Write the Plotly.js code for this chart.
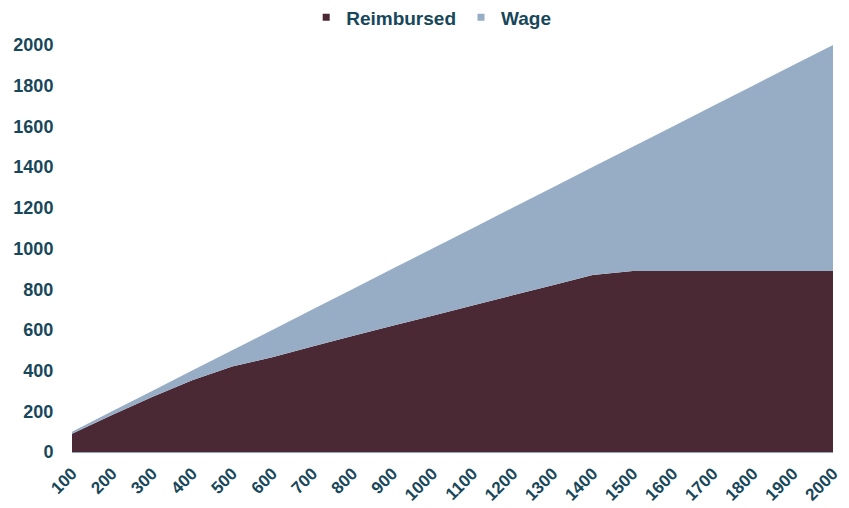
<!DOCTYPE html>
<html>
<head>
<meta charset="utf-8">
<script src="https://cdn.plot.ly/plotly-3.0.1.min.js"></script>
<style>html,body{margin:0;padding:0;background:#fff;}#chart{width:849px;height:508px;}</style>
</head>
<body>
<div id="chart"></div>
<script>
const categories = [100,200,300,400,500,600,700,800,900,1000,1100,1200,1300,1400,1500,1600,1700,1800,1900,2000];
const reimbursed = [90,182,270,352,420,465,518,570,620,670,720,770,820,870,890,890,890,890,890,890];
const wage = [10,18,30,48,80,135,182,230,280,330,380,430,480,530,610,710,810,910,1010,1110];
const yTicks = [0,200,400,600,800,1000,1200,1400,1600,1800,2000];

const textColor = '#17475a';
const fontFam = '"Liberation Sans", Arial, sans-serif';
const cRe = '#4a2834';
const cWa = '#97adc6';

const data = [
  {x: categories, y: reimbursed, name: 'Reimbursed', type: 'scatter', mode: 'none',
   stackgroup: 'one', fillcolor: cRe, showlegend: false, hoverinfo: 'x+y+name'},
  {x: categories, y: wage, name: 'Wage', type: 'scatter', mode: 'none',
   stackgroup: 'one', fillcolor: cWa, showlegend: false, hoverinfo: 'x+y+name'},
  {x: [null], y: [null], name: 'Reimbursed', type: 'scatter', mode: 'markers',
   marker: {symbol: 'square', size: 7, color: cRe}},
  {x: [null], y: [null], name: 'Wage', type: 'scatter', mode: 'markers',
   marker: {symbol: 'square', size: 7, color: cWa}}
];

const layout = {
  width: 849, height: 508,
  margin: {l: 72, r: 16, t: 45, b: 56, autoexpand: false},
  paper_bgcolor: '#ffffff', plot_bgcolor: '#ffffff',
  font: {family: fontFam, color: textColor, size: 18},
  showlegend: true,
  legend: {orientation: 'h', x: 0.472, xanchor: 'center', y: 1.068, yanchor: 'middle',
           traceorder: 'normal',
           font: {family: fontFam, size: 19, color: textColor, weight: 'bold'},
           itemwidth: 30, tracegroupgap: 0, bgcolor: 'rgba(0,0,0,0)'},
  xaxis: {
    type: 'linear', range: [100, 2000], tickmode: 'array', tickvals: categories,
    ticktext: categories.map(String), tickangle: -45,
    showgrid: false, zeroline: false, showline: true, linecolor: '#8fa3b8', linewidth: 1,
    ticks: 'outside', ticklen: 4, tickcolor: 'rgba(0,0,0,0)',
    tickfont: {family: fontFam, size: 17, color: textColor, weight: 'bold'}
  },
  yaxis: {
    range: [0, 2000], tickmode: 'array', tickvals: yTicks, ticktext: yTicks.map(String),
    showgrid: false, zeroline: false, showline: false,
    ticks: 'outside', ticklen: 14, tickcolor: 'rgba(0,0,0,0)',
    tickfont: {family: fontFam, size: 18, color: textColor, weight: 'bold'}
  }
};

Plotly.newPlot('chart', data, layout, {displayModeBar: false, staticPlot: true});
</script>
</body>
</html>
